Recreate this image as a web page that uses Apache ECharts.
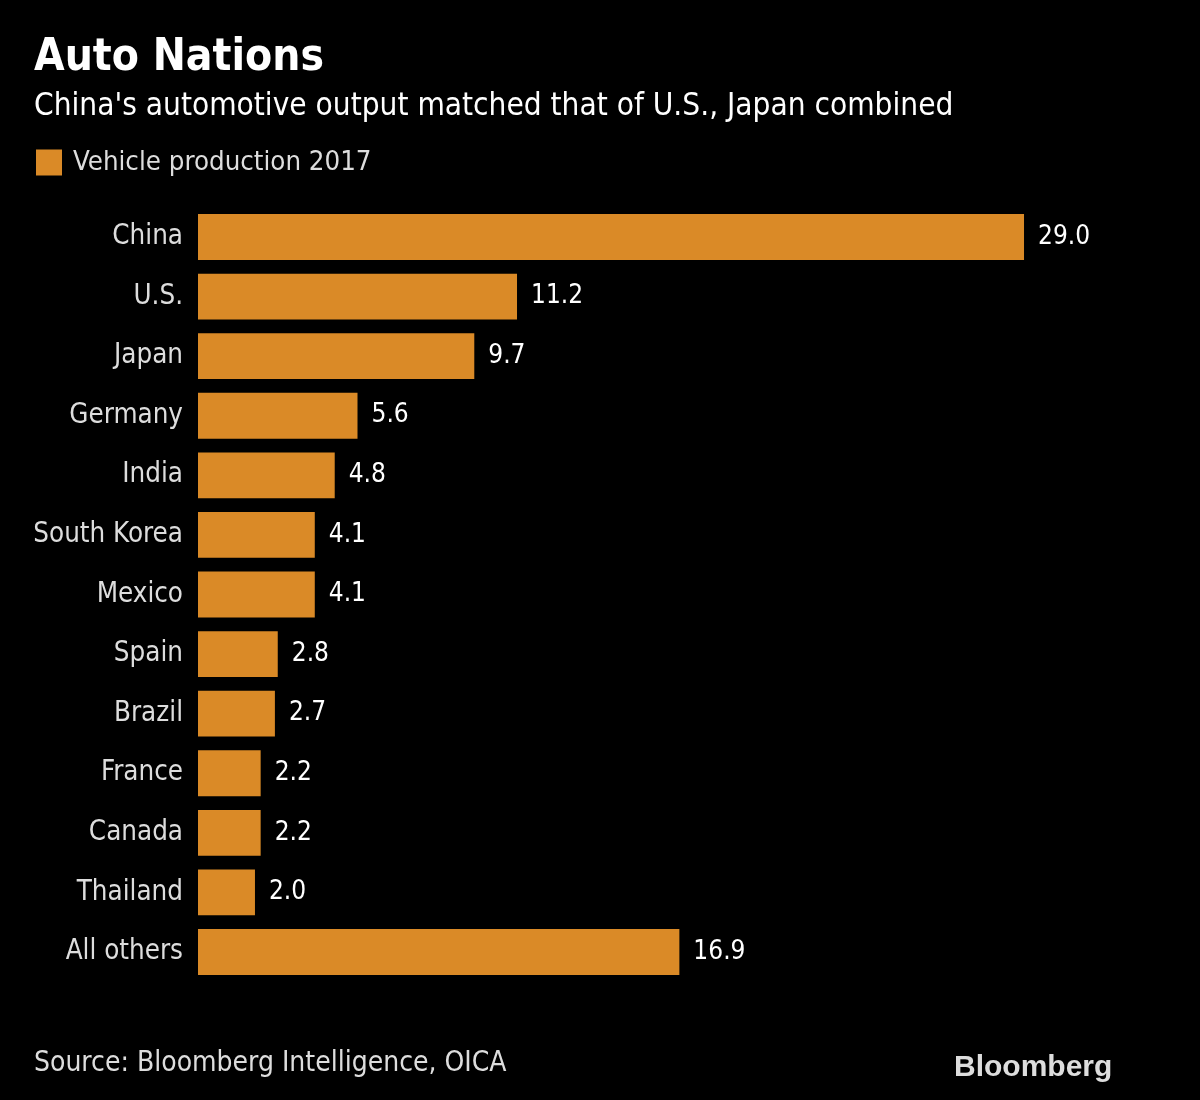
<!DOCTYPE html>
<html><head><meta charset="utf-8">
<script src="https://cdn.jsdelivr.net/npm/echarts@6/dist/echarts.min.js"></script>
<style>html,body{margin:0;padding:0;background:#000}#c{width:1200px;height:1100px}</style>
</head><body><div id="c"></div>
<script>
const categories = ['China','U.S.','Japan','Germany','India','South Korea','Mexico','Spain','Brazil','France','Canada','Thailand','All others'];
const production2017 = [29.0,11.2,9.7,5.6,4.8,4.1,4.1,2.8,2.7,2.2,2.2,2.0,16.9];
const seriesName = 'Vehicle production 2017';
const FONT = '"DejaVu Sans Condensed","DejaVu Sans",sans-serif';
const chart = echarts.init(document.getElementById('c'));
chart.setOption({
  backgroundColor:'#000',
  animation:false,
  title:[
    {text:'Auto Nations',left:29,top:32,textStyle:{color:'#fff',fontFamily:FONT,fontWeight:'bold',fontSize:44}},
    {text:"China's automotive output matched that of U.S., Japan combined",left:29,top:86,textStyle:{color:'#fff',fontFamily:FONT,fontWeight:'normal',fontSize:31.3}},
    {text:'Source: Bloomberg Intelligence, OICA',left:29,top:1045,textStyle:{color:'#ddd',fontFamily:FONT,fontWeight:'normal',fontSize:28}},
    {text:'Bloomberg',left:949,top:1048,textStyle:{color:'#ddd',fontFamily:'"Liberation Sans",Arial,sans-serif',fontWeight:'bold',fontSize:30,letterSpacing:-1}}
  ],
  legend:{left:31,top:144,itemWidth:26,itemHeight:26,itemGap:10,icon:'rect',
    textStyle:{color:'#ddd',fontFamily:FONT,fontSize:27.4,padding:[0,0,0,6]},data:[seriesName]},
  grid:{left:198,right:147.5,top:207.2,bottom:118.2,containLabel:false},
  xAxis:{type:'value',min:0,max:30,show:false},
  yAxis:{type:'category',data:categories,inverse:true,
    axisLine:{show:false},axisTick:{show:false},splitLine:{show:false},
    axisLabel:{color:'#ddd',fontFamily:FONT,fontSize:27.5,margin:15}},
  series:[{name:seriesName,type:'bar',data:production2017,barCategoryGap:'23%',
    itemStyle:{color:'#DA8A27'},
    label:{show:true,position:'right',distance:14,color:'#fff',fontFamily:FONT,fontSize:26,
      formatter:p=>p.value.toFixed(1)}}]
});
</script></body></html>
